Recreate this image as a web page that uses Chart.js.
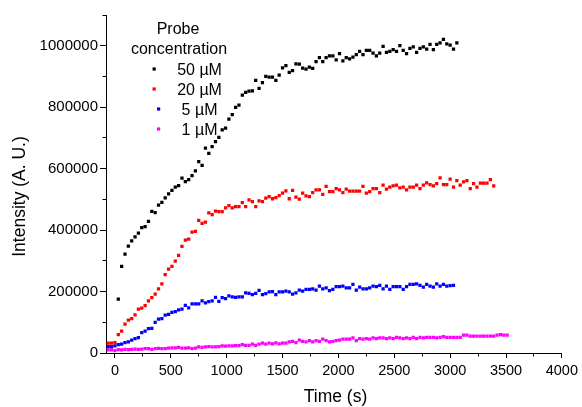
<!DOCTYPE html>
<html>
<head>
<meta charset="utf-8">
<script src="https://cdn.jsdelivr.net/npm/chart.js@4.4.1/dist/chart.umd.min.js"></script>
<style>
  html, body { margin: 0; padding: 0; background: #fff; }
</style>
</head>
<body>
<canvas id="probeChart" width="582" height="407"></canvas>
<script>
// Sampling times (s), one every 30 s
var times = [
  -60, -30, 0, 30, 60, 90, 120, 150, 180, 210,
  240, 270, 300, 330, 360, 390, 420, 450, 480, 510,
  540, 570, 600, 630, 660, 690, 720, 750, 780, 810,
  840, 870, 900, 930, 960, 990, 1020, 1050, 1080, 1110,
  1140, 1170, 1200, 1230, 1260, 1290, 1320, 1350, 1380, 1410,
  1440, 1470, 1500, 1530, 1560, 1590, 1620, 1650, 1680, 1710,
  1740, 1770, 1800, 1830, 1860, 1890, 1920, 1950, 1980, 2010,
  2040, 2070, 2100, 2130, 2160, 2190, 2220, 2250, 2280, 2310,
  2340, 2370, 2400, 2430, 2460, 2490, 2520, 2550, 2580, 2610,
  2640, 2670, 2700, 2730, 2760, 2790, 2820, 2850, 2880, 2910,
  2940, 2970, 3000, 3030, 3060, 3090, 3120, 3150, 3180, 3210,
  3240, 3270, 3300, 3330, 3360, 3390, 3420, 3450, 3480, 3510
];

// Intensities (A. U.), black series starts at 30 s, others at -60 s
var probe50 = [
  175000, 282000, 322000, 348000, 365000, 378000, 390000, 408000, 411000, 428000,
  461000, 457000, 481000, 490000, 505000, 518000, 529000, 540000, 545000, 569000,
  558000, 564000, 577000, 593000, 623000, 611000, 667000, 650000, 672000, 688000,
  702000, 726000, 732000, 761000, 776000, 799000, 807000,
  839000, 848000, 852000, 853000, 887000, 861000, 880000, 900000, 898000, 898000,
  887000, 904000, 928000, 935000, 913000, 919000, 941000, 940000, 927000, 924000,
  930000, 926000, 948000, 961000, 948000, 961000, 967000, 967000, 954000, 974000,
  951000, 961000, 957000, 963000, 971000, 982000, 971000, 985000, 985000, 976000,
  967000, 976000, 998000, 978000, 982000, 987000, 982000, 1000000, 985000, 974000,
  991000, 996000, 978000, 991000, 996000, 989000, 1004000, 987000, 1004000, 1009000,
  1021000, 1006000, 1002000, 989000, 1009000
];
var probe20 = [
  32000, 32000, 34000, 60000, 71000, 94000, 107000, 112000, 124000, 143000,
  146000, 154000, 170000, 180000, 192000, 209000, 225000, 255000, 273000, 282000,
  299000, 318000, 347000, 367000, 371000, 393000, 396000, 432000, 422000, 426000,
  456000, 450000, 462000, 460000, 460000, 472000, 480000, 472000, 476000, 476000,
  489000, 476000, 498000, 493000, 476000, 495000, 493000, 504000, 509000, 502000,
  506000, 512000, 520000, 528000, 502000, 529000, 507000, 501000, 520000, 511000,
  509000, 522000, 531000, 531000, 516000, 542000, 525000, 525000, 535000, 531000,
  522000, 533000, 527000, 527000, 527000, 527000, 542000, 520000, 525000, 535000,
  535000, 522000, 546000, 533000, 540000, 544000, 546000, 537000, 540000, 531000,
  540000, 540000, 546000, 535000, 546000, 554000, 548000, 544000, 551000, 570000,
  548000, 548000, 566000, 540000, 561000, 546000, 557000, 561000, 535000, 551000,
  540000, 553000, 553000, 553000, 564000, 544000
];
var probe5 = [
  21000, 21000, 23000, 27000, 29000, 34000, 36000, 42000, 47000, 50000,
  66000, 71000, 79000, 80000, 100000, 110000, 112000, 123000, 126000, 132000,
  135000, 140000, 143000, 155000, 147000, 160000, 160000, 160000, 170000, 163000,
  167000, 170000, 181000, 168000, 180000, 177000, 186000, 183000, 181000, 183000,
  183000, 196000, 194000, 190000, 194000, 204000, 190000, 193000, 199000, 200000,
  190000, 199000, 199000, 201000, 199000, 192000, 196000, 205000, 201000, 207000,
  207000, 209000, 205000, 218000, 209000, 212000, 203000, 207000, 216000, 216000,
  218000, 212000, 212000, 223000, 205000, 214000, 209000, 209000, 212000, 218000,
  216000, 220000, 209000, 218000, 207000, 216000, 216000, 216000, 207000, 216000,
  223000, 223000, 225000, 220000, 214000, 223000, 218000, 214000, 225000, 218000,
  223000, 218000, 219000, 220000
];
var probe1 = [
  10000, 10000, 8000, 11000, 10000, 12000, 11000, 12000, 13000, 12000,
  13000, 14000, 14000, 12000, 14000, 15000, 14000, 14000, 16000, 17000,
  17000, 18000, 16000, 16000, 17000, 14000, 16000, 20000, 18000, 20000,
  21000, 20000, 20000, 21000, 23000, 22000, 23000, 23000, 24000, 24000,
  27000, 25000, 25000, 29000, 25000, 29000, 32000, 29000, 32000, 30000,
  33000, 30000, 32000, 32000, 36000, 38000, 34000, 42000, 38000, 36000,
  40000, 36000, 40000, 38000, 45000, 40000, 36000, 38000, 40000, 42000,
  45000, 45000, 45000, 49000, 40000, 47000, 45000, 47000, 45000, 49000,
  47000, 49000, 49000, 47000, 49000, 47000, 51000, 49000, 47000, 49000,
  47000, 51000, 47000, 51000, 49000, 51000, 51000, 51000, 49000, 51000,
  53000, 51000, 51000, 51000, 51000, 51000, 58000, 58000, 55000, 55000,
  55000, 55000, 55000, 55000, 55000, 55000, 58000, 60000, 58000, 58000
];

var labels = ['50 µM', '20 µM', '5 µM', '1 µM'];
var colors = ['#000000', '#ff0000', '#0000ff', '#ff00ff'];
var series = [probe50, probe20, probe5, probe1];
var startIndex = [3, 0, 0, 0];

// tick positions
var xTicks = [0, 500, 1000, 1500, 2000, 2500, 3000, 3500, 4000];
var yTicks = [0, 200000, 400000, 600000, 800000, 1000000];
var xTicksMinor = [250, 750, 1250, 1750, 2250, 2750, 3250, 3750];
var yTicksMinor = [100000, 300000, 500000, 700000, 900000, 1100000];

var FONT = "'Liberation Sans', Arial, sans-serif";

function toPoints(vals, start) {
    var pts = [];
    for (var i = 0; i < vals.length; i++) {
        pts.push({ x: times[start + i], y: vals[i] });
    }
    return pts;
}

var datasets = [];
for (var s = 0; s < series.length; s++) {
    datasets.push({
        label: labels[s],
        data: toPoints(series[s], startIndex[s]),
        backgroundColor: colors[s],
        borderColor: colors[s],
        pointStyle: 'rect',
        pointRadius: 2.3,
        pointBorderWidth: 0,
        showLine: false
    });
}

function align(p) {
    return Math.round(p - 0.5) + 0.5;
}

// minor ticks, axis titles and the in-plot legend
var extras = {
    id: 'extras',
    afterDraw: function (chart) {
        var ctx = chart.ctx;
        var xs = chart.scales.x, ys = chart.scales.y;
        ctx.save();
        ctx.strokeStyle = '#000';
        ctx.lineWidth = 1;
        ctx.beginPath();
        xTicksMinor.forEach(function (v) {
            var px = align(xs.getPixelForValue(v));
            ctx.moveTo(px, ys.bottom);
            ctx.lineTo(px, ys.bottom + 3.5);
        });
        yTicksMinor.forEach(function (v) {
            var py = align(ys.getPixelForValue(v));
            ctx.moveTo(xs.left, py);
            ctx.lineTo(xs.left - 3.5, py);
        });
        ctx.stroke();

        ctx.fillStyle = '#000';
        ctx.font = '17.5px ' + FONT;
        ctx.textAlign = 'center';
        ctx.textBaseline = 'alphabetic';
        ctx.fillText('Time (s)', 335.5, 402);

        ctx.save();
        ctx.translate(25, 196.5);
        ctx.rotate(-Math.PI / 2);
        ctx.fillText('Intensity (A. U.)', 0, 0);
        ctx.restore();

        // legend
        ctx.font = '16px ' + FONT;
        ctx.fillText('Probe', 178, 34);
        ctx.fillText('concentration', 179, 54);
        ctx.textAlign = 'left';
        var cx = 187.3;
        chart.data.datasets.forEach(function (ds, i) {
            var tw = ctx.measureText(ds.label).width;
            var xm = cx - (21.5 + tw) / 2;
            var ym = 69 + i * 20;
            ctx.fillStyle = ds.backgroundColor;
            ctx.fillRect(xm - 1.6, ym - 1.6, 3.2, 3.2);
            ctx.fillStyle = '#000';
            ctx.fillText(ds.label, xm + 23, ym + 6);
        });
        ctx.restore();
    }
};

function setTicks(list) {
    return function (scale) {
        scale.ticks = list.map(function (v) { return { value: v }; });
    };
}

var ctx = document.getElementById('probeChart').getContext('2d');
var chart = new Chart(ctx, {
    type: 'scatter',
    data: { datasets: datasets },
    options: {
        responsive: false,
        animation: false,
        layout: { padding: { top: 15, right: 18, bottom: 0, left: 0 } },
        plugins: {
            legend: { display: false },
            tooltip: { enabled: false }
        },
        scales: {
            x: {
                type: 'linear',
                min: -80,
                max: 4000,
                afterBuildTicks: setTicks(xTicks),
                afterFit: function (scale) { scale.height = 54; },
                ticks: {
                    color: '#000',
                    padding: 4,
                    maxRotation: 0,
                    autoSkip: false,
                    font: { family: FONT, size: 14.5 },
                    callback: function (v) { return String(v); }
                },
                grid: { drawOnChartArea: false, drawTicks: true, tickLength: 5, color: '#000' },
                border: { display: true, color: '#000', width: 1 }
            },
            y: {
                type: 'linear',
                min: 0,
                max: 1100000,
                afterBuildTicks: setTicks(yTicks),
                afterFit: function (scale) { scale.width = 106; },
                ticks: {
                    color: '#000',
                    padding: 2,
                    autoSkip: false,
                    font: { family: FONT, size: 15 },
                    callback: function (v) { return String(v); }
                },
                grid: { drawOnChartArea: false, drawTicks: true, tickLength: 6, color: '#000' },
                border: { display: true, color: '#000', width: 1 }
            }
        }
    },
    plugins: [extras]
});
</script>
</body>
</html>
